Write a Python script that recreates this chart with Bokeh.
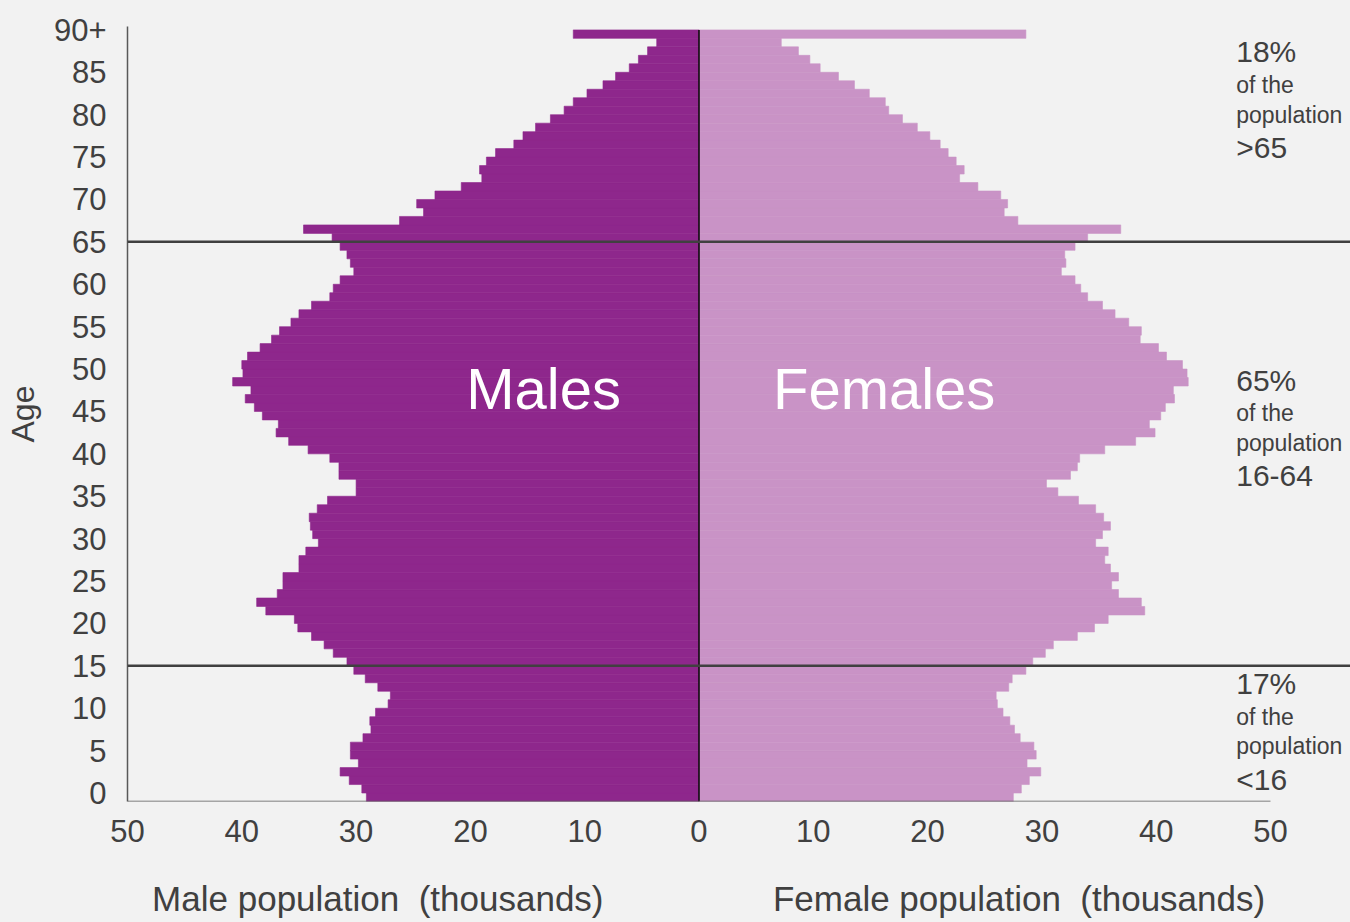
from bokeh.plotting import figure
from bokeh.layouts import column
from bokeh.models import Range1d, FixedTicker, Span, Label, ColumnDataSource
from bokeh.core.properties import value
from bokeh.embed import file_html
from bokeh.resources import INLINE

# ---- data (thousands) ----
ages = list(range(91))  # 90 = "90+"
male = [29.1, 29.5, 30.6, 31.4, 29.8, 30.5, 30.5, 29.4, 28.7, 28.8,
        28.3, 27.2, 27.0, 28.1, 29.2, 30.2, 30.8, 32.0, 32.8, 33.9,
        35.1, 35.4, 37.9, 38.7, 36.9, 36.4, 36.4, 35.0, 35.0, 34.4,
        33.3, 33.8, 34.0, 34.1, 33.4, 32.5, 30.0, 30.0, 31.5, 31.5,
        32.3, 34.2, 35.9, 37.0, 36.8, 38.2, 38.9, 39.7, 39.2, 40.8,
        39.9, 40.0, 39.5, 38.4, 37.4, 36.7, 35.7, 35.0, 33.9, 32.3,
        32.0, 31.4, 30.2, 30.5, 30.8, 31.4, 32.1, 34.6, 26.2, 24.1,
        24.7, 23.1, 20.8, 19.0, 19.2, 18.6, 17.8, 16.2, 15.4, 14.3,
        13.0, 11.8, 11.0, 9.8, 8.4, 7.3, 6.1, 5.3, 4.5, 3.7,
        11.0]
female = [27.5, 28.2, 28.9, 29.9, 28.7, 29.5, 29.3, 28.1, 27.6, 27.2,
          26.6, 26.1, 26.0, 27.1, 27.4, 28.6, 29.2, 30.3, 31.0, 33.1,
          34.6, 35.8, 39.0, 38.7, 36.7, 36.1, 36.7, 36.0, 35.5, 35.8,
          34.7, 35.3, 36.0, 35.4, 34.7, 33.2, 31.4, 30.4, 32.5, 33.1,
          33.3, 35.5, 38.2, 39.9, 39.4, 40.4, 40.8, 41.6, 41.5, 42.8,
          42.7, 42.3, 40.9, 40.2, 38.6, 38.7, 37.6, 36.4, 35.3, 34.0,
          33.4, 32.9, 31.7, 32.1, 32.0, 32.9, 34.0, 36.9, 27.9, 26.7,
          27.0, 26.4, 24.4, 22.8, 23.2, 22.5, 21.8, 21.1, 20.2, 19.1,
          17.8, 16.6, 16.3, 14.9, 13.6, 12.2, 10.6, 9.7, 8.7, 7.2,
          28.6]

age_ticks = list(range(0, 91, 5))
age_tick_labels = [str(a) for a in age_ticks[:-1]] + ["90+"]
pop_ticks = [-50, -40, -30, -20, -10, 0, 10, 20, 30, 40, 50]
pop_tick_labels = ["50", "40", "30", "20", "10", "0", "10", "20", "30", "40", "50"]
axis_titles = ["Male population\u00a0 (thousands)", "Female population\u00a0 (thousands)"]

band_lines = [65, 15]
band_notes = [
    ("18%", "of the", "population", ">65", 87.4),
    ("65%", "of the", "population", "16-64", 48.7),
    ("17%", "of the", "population", "<16", 12.9),
]

MALE_C = "#8E278C"
FEMALE_C = "#C993C6"
BG = "#F2F2F2"
TXT = "#404040"
FONT = "Liberation Sans"

src = ColumnDataSource(dict(
    pos=[a - 0.5 for a in ages],
    mleft=[-m for m in male],
    fright=female,
))

p = figure(width=1350, height=860, output_backend="svg", toolbar_location=None,
           x_range=Range1d(-50, 57.0), y_range=Range1d(-1, 90.4),
           min_border_left=127, min_border_right=0, min_border_top=26,
           min_border_bottom=59)
p.background_fill_color = BG
p.border_fill_color = BG
p.outline_line_color = None
p.grid.visible = False

p.hbar(y="pos", left="mleft", right=0, height=1.0, source=src,
       fill_color=MALE_C, line_color=MALE_C, line_width=0.6)
p.hbar(y="pos", left=0, right="fright", height=1.0, source=src,
       fill_color=FEMALE_C, line_color=FEMALE_C, line_width=0.6)

# zero line and bottom axis line
p.segment(x0=0, y0=-1, x1=0, y1=ages[-1], line_color="black", line_width=1.5)
p.segment(x0=pop_ticks[0], y0=-1, x1=pop_ticks[-1], y1=-1,
          line_color="#595959", line_width=1.5)

for loc in band_lines:
    p.add_layout(Span(location=loc, dimension="width", line_color=TXT, line_width=2.5))

# axes
xa = p.xaxis[0]
xa.ticker = FixedTicker(ticks=pop_ticks)
xa.major_label_overrides = {t: l for t, l in zip(pop_ticks, pop_tick_labels)}
xa.axis_line_color = None
xa.major_tick_line_color = None
xa.minor_tick_line_color = None
xa.major_label_text_font = FONT
xa.major_label_text_font_size = "31px"
xa.major_label_text_color = TXT
xa.major_label_standoff = 12

ya = p.yaxis[0]
ya.ticker = FixedTicker(ticks=age_ticks)
ya.major_label_overrides = {t: l for t, l in zip(age_ticks, age_tick_labels)}
ya.axis_line_color = "#595959"
ya.axis_line_width = 1.5
ya.major_tick_line_color = None
ya.minor_tick_line_color = None
ya.major_label_text_font = FONT
ya.major_label_text_font_size = "31px"
ya.major_label_text_color = TXT
ya.major_label_standoff = 15
ya.axis_label = "Age"
ya.axis_label_text_font = FONT
ya.axis_label_text_font_size = "32px"
ya.axis_label_text_font_style = "normal"
ya.axis_label_text_color = TXT
ya.axis_label_standoff = 10

# in-bar labels
p.add_layout(Label(x=-13.6, y=47.7, text="Males", text_color="white",
                   text_font=FONT, text_font_size="58px",
                   text_align="center", text_baseline="middle"))
p.add_layout(Label(x=16.2, y=47.7, text="Females", text_color="white",
                   text_font=FONT, text_font_size="58px",
                   text_align="center", text_baseline="middle"))

# right-side notes
for big, l2, l3, l4, ytop in band_notes:
    offs = [(big, 0.0, "30px"), (l2, -3.9, "23px"), (l3, -7.4, "23px"), (l4, -11.3, "30px")]
    for t, dy, fs in offs:
        p.add_layout(Label(x=47.0, y=ytop + dy, text=t, text_color=TXT,
                           text_font=FONT, text_font_size=fs,
                           text_align="left", text_baseline="middle"))

# strip below the chart carrying the two horizontal axis titles
# (frames of the column are aligned, so the x range is shared with the chart)
p2 = figure(width=1350, height=62, output_backend="svg", toolbar_location=None,
            x_range=p.x_range, y_range=Range1d(0, 62),
            x_axis_location=None, y_axis_location=None,
            min_border_left=127, min_border_right=0, min_border_top=0,
            min_border_bottom=0)
p2.background_fill_color = BG
p2.border_fill_color = BG
p2.outline_line_color = None
p2.grid.visible = False
p2.text(x=[-28.1, 28.0], y=[24, 24], text=axis_titles,
        text_font=value(FONT), text_font_size="35px", text_color=TXT,
        text_align="center", text_baseline="middle")

layout = column(p, p2, spacing=0, styles={"background-color": BG})

open("out.html", "w").write(file_html(layout, INLINE))
